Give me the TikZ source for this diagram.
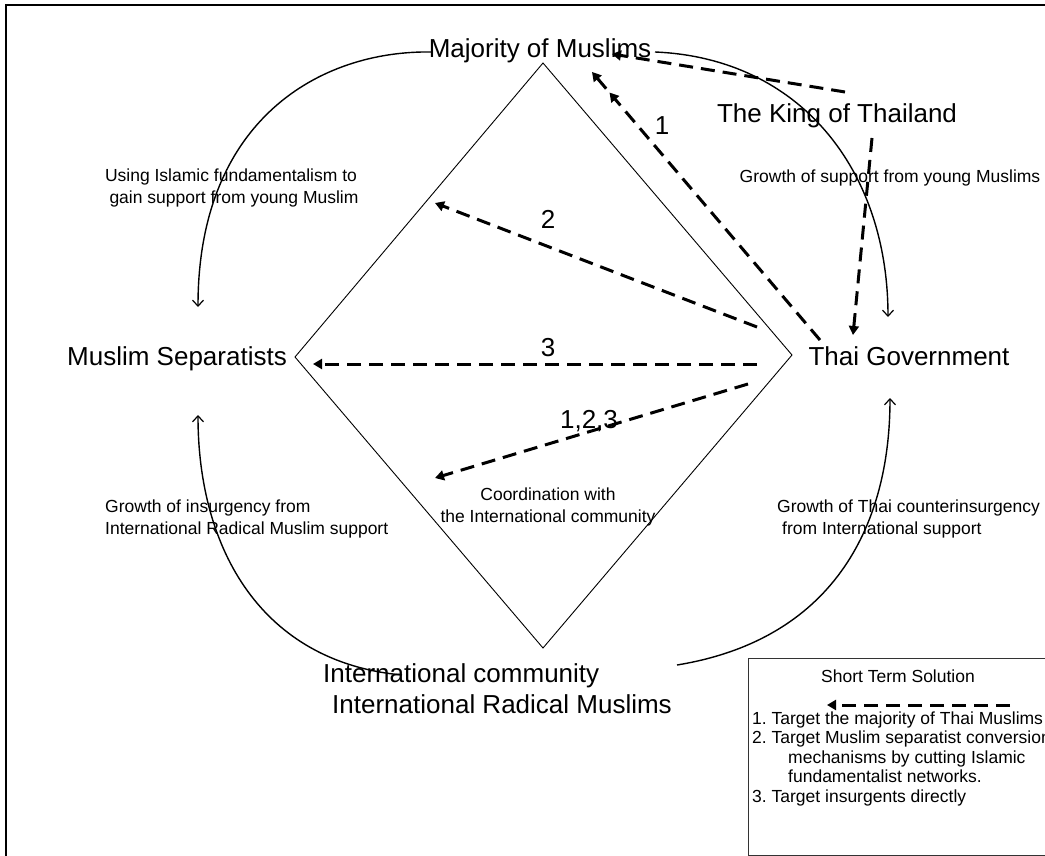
\documentclass[tikz,border=0pt]{standalone}
\usepackage{fontspec}
\setmainfont{Liberation Sans}
\usetikzlibrary{arrows.meta}
\frenchspacing
\tikzset{
  biglabel/.style={font=\fontsize{26}{30}\selectfont, inner sep=0pt, anchor=base},
  smalllabel/.style={font=\fontsize{17.5}{20}\selectfont, inner sep=0pt, anchor=base},
  flow/.style={line width=1.4pt, -{Straight Barb[length=6pt,width=11pt,line width=1.2pt]}},
  strategy/.style={line width=3pt, dash pattern=on 14pt off 8pt,
    -{Triangle[length=9pt,width=10pt]}},
  doubletip/.style={line width=3pt, dash pattern=on 14pt off 8pt,
    -{Triangle[length=9pt,width=10pt,sep=18pt]Triangle[length=9pt,width=10pt]}},
  outline/.style={line width=2pt},
  rhomb/.style={line width=0.9pt},
  legendbox/.style={line width=1pt, draw=black!80},
}
\begin{document}
\begin{tikzpicture}[x=1pt,y=-1pt]
\useasboundingbox (0,0) rectangle (1045,856);
\clip (0,0) rectangle (1045,856);
\fill[white] (0,0) rectangle (1045,856);

% outer frame (only top and left edges fall inside the page)
\draw[outline] (5.5,900) -- (5.5,5.5) -- (1100,5.5);

% central diamond
\coordinate (dT) at (543,63);
\coordinate (dR) at (792,355);
\coordinate (dB) at (543,648);
\coordinate (dL) at (295,357);
\draw[rhomb] (dT) -- (dR) -- (dB) -- (dL) -- cycle;

% actors
\node[biglabel] (maj) at (540,58) {Majority of Muslims};
\node[biglabel] (king) at (837,123) {The King of Thailand};
\node[biglabel] (gov) at (909,365) {Thai Government};
\node[biglabel] (sep) at (177,365) {Muslim Separatists};
\node[biglabel, anchor=base west] (intlA) at (323,682) {International community};
\node[biglabel, anchor=base west] (intlB) at (332,713) {International Radical Muslims};

% strategy numbers
\node[biglabel] (num1) at (662,135) {1};
\node[biglabel] (num2) at (548,229) {2};
\node[biglabel] (num3) at (548,356) {3};
\node[biglabel] (num123) at (589,428) {1,2,3};

% influence descriptions
\node[smalllabel] (ulA) at (231,182) {Using Islamic fundamentalism to};
\node[smalllabel] (ulB) at (234,204) {gain support from young Muslim};
\node[smalllabel] (ur) at (890,183) {Growth of support from young Muslims};
\node[smalllabel, anchor=base west] (llA) at (105,512) {Growth of insurgency from};
\node[smalllabel, anchor=base west] (llB) at (105,534) {International Radical Muslim support};
\node[smalllabel] (ccA) at (548,500) {Coordination with};
\node[smalllabel] (ccB) at (548,522) {the International community};
\node[smalllabel, anchor=base west] (lrA) at (777,512) {Growth of Thai counterinsurgency};
\node[smalllabel, anchor=base west] (lrB) at (782,534) {from International support};

% end points of the feedback curves
\coordinate (tlS) at (432,52);
\coordinate (tlE) at (198,307);
\coordinate (trS) at (655,52);
\coordinate (trE) at (888,317);
\coordinate (blS) at (402,675);
\coordinate (blE) at (198,415);
\coordinate (brS) at (677,665);
\coordinate (brE) at (890,398);

\draw[flow] (tlS) .. controls (320,50) and (198,120) .. (tlE);
\draw[flow] (trS) .. controls (800,58) and (888,170) .. (trE);
\draw[flow] (blS) .. controls (262,662) and (198,550) .. (blE);
\draw[flow] (brS) .. controls (830,640) and (890,530) .. (brE);

% end points of the strategy arrows
\coordinate (kingL) at (845,92);
\coordinate (majK) at (612,54);
\coordinate (kingD) at (872,138);
\coordinate (govK) at (853,335);
\coordinate (govA) at (820,340);
\coordinate (majG) at (592,72);
\coordinate (govB) at (757,327);
\coordinate (sepIn) at (435,203);
\coordinate (govC) at (757,364);
\coordinate (sepT) at (313,364);
\coordinate (govD) at (748,384);
\coordinate (intlIn) at (435,478);

\draw[strategy] (kingL) -- (majK);
\draw[strategy] (kingD) -- (govK);
\draw[doubletip] (govA) -- (majG);
\draw[strategy] (govB) -- (sepIn);
\draw[strategy] (govC) -- (sepT);
\draw[strategy] (govD) -- (intlIn);

% legend
\draw[legendbox] (748,658) rectangle (1100,855);
\node[smalllabel] (legT) at (898,682) {Short Term Solution};
\coordinate (legS) at (1010,705);
\coordinate (legE) at (827,705);
\draw[strategy] (legS) -- (legE);
\node[smalllabel, anchor=base west] (legA) at (752,724) {1. Target the majority of Thai Muslims};
\node[smalllabel, anchor=base west] (legB) at (752,743) {2. Target Muslim separatist conversion};
\node[smalllabel, anchor=base west] (legC) at (788,763) {mechanisms by cutting Islamic};
\node[smalllabel, anchor=base west] (legD) at (788,782) {fundamentalist networks.};
\node[smalllabel, anchor=base west] (legE3) at (752,802) {3. Target insurgents directly};
\end{tikzpicture}
\end{document}
